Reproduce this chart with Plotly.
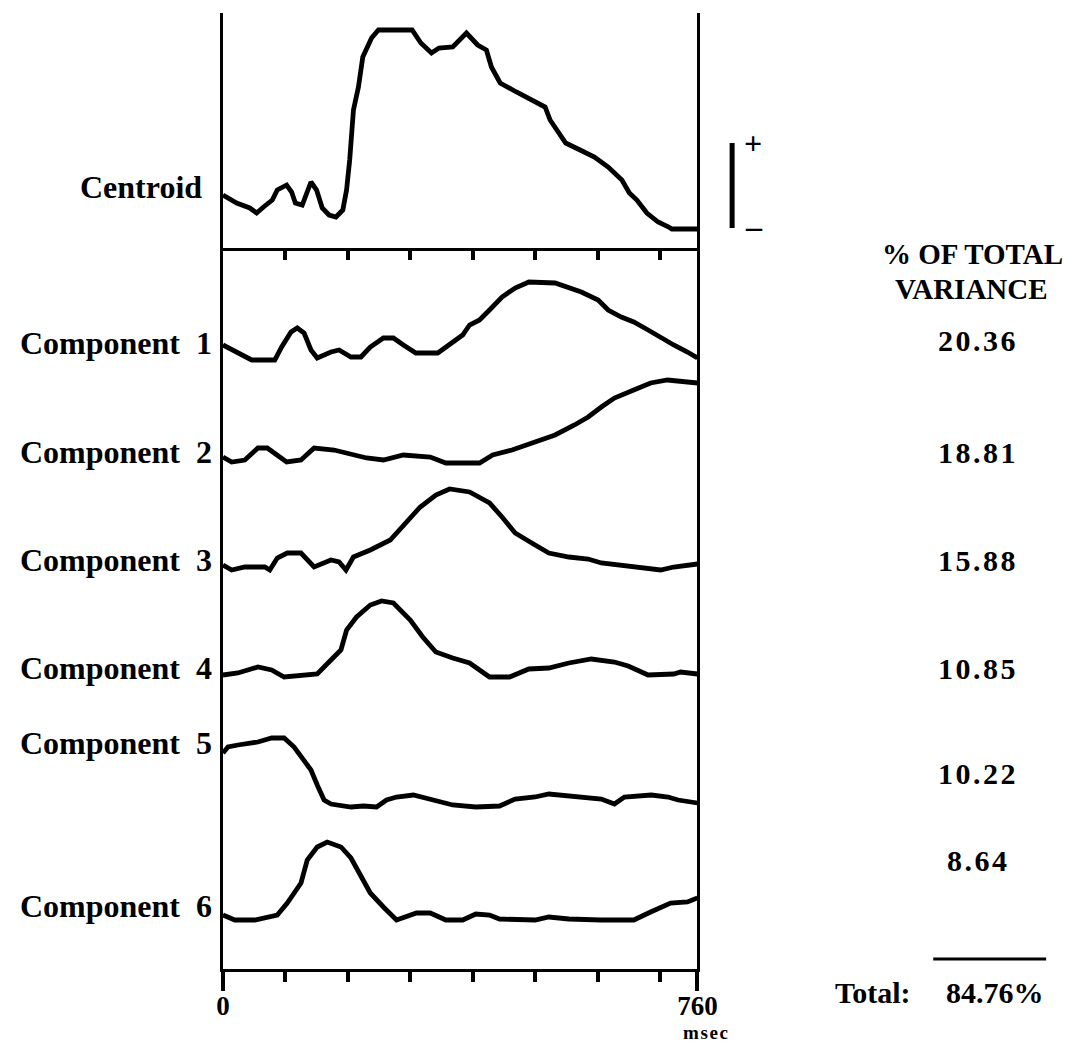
import plotly.graph_objects as go

W, H = 1080, 1043
XK = 1.016   # horizontal correction observed between requested and photographed positions


def fx(p):
    return p * XK / W


def fy(p):
    return 1 - p / H


# ---------------- data ----------------
# time in msec, amplitude in arbitrary units (positive = up)
centroid_ms = [0, 22, 43, 54, 65, 79, 87, 102, 110, 116, 127, 136, 141, 150, 159, 170, 181, 192, 198,
               203, 209, 217, 224, 238, 249, 303, 317, 334, 346, 368, 390, 408, 422, 430, 444, 470,
               493, 516, 524, 538, 549, 572, 595, 617, 639, 651, 663, 679, 697, 714, 719, 760]
centroid_amp = [34, 26, 21, 16, 22, 29, 39, 44, 37, 26, 24, 39, 47, 39, 21, 14, 12, 19, 39,
                69, 119, 142, 172, 191, 199, 199, 186, 176, 181, 182, 196, 184, 179, 162, 146, 137,
                129, 122, 109, 96, 86, 79, 72, 62, 49, 36, 29, 16, 7, 2, 0, 0]

comp1_ms = [0, 24, 46, 83, 94, 109, 119, 130, 141, 151, 173, 186, 205, 221, 236, 257, 273, 289, 309,
            344, 363, 384, 395, 411, 427, 447, 468, 490, 532, 554, 574, 601, 617, 638, 658, 681,
            701, 722, 744, 760]
comp1_amp = [0, -8, -15, -15, -2, 13, 17, 12, -5, -13, -7, -5, -12, -12, -2, 7, 7, 0, -8,
             -8, 0, 10, 20, 25, 35, 48, 57, 63, 62, 57, 53, 45, 35, 28, 23, 15,
             7, 0, -7, -13]

comp2_ms = [0, 14, 35, 56, 71, 87, 102, 125, 146, 178, 198, 230, 257, 289, 332, 357, 411, 432, 463,
            500, 532, 563, 585, 606, 627, 658, 685, 712, 733, 760]
comp2_amp = [0, -5, -3, 9, 9, 2, -5, -3, 9, 7, 4, -1, -3, 2, 0, -6, -6, 2, 7,
             15, 22, 32, 40, 50, 59, 67, 74, 77, 76, 74]

comp3_ms = [0, 14, 35, 67, 75, 87, 103, 125, 146, 173, 186, 197, 209, 236, 268, 293, 316, 341, 363,
            395, 427, 447, 468, 500, 522, 554, 585, 606, 658, 701, 722, 760]
comp3_amp = [0, -5, -2, -2, -5, 7, 12, 12, -2, 5, 3, -5, 8, 15, 25, 42, 58, 70, 76,
             73, 62, 48, 32, 20, 12, 8, 6, 2, -2, -5, -2, 1]

comp4_ms = [0, 24, 56, 78, 98, 125, 151, 173, 189, 198, 214, 236, 254, 273, 300, 320, 341, 368, 395,
            427, 459, 490, 522, 554, 590, 627, 649, 681, 722, 733, 760]
comp4_amp = [0, 2, 8, 5, -2, -1, 1, 15, 25, 45, 58, 70, 74, 72, 55, 38, 23, 17, 12,
             -2, -2, 6, 7, 12, 16, 13, 9, 0, 1, 3, 1]

comp5_ms = [0, 8, 24, 56, 78, 98, 114, 130, 141, 151, 162, 173, 205, 225, 246, 262, 278, 305, 332,
            368, 405, 443, 468, 500, 522, 563, 606, 627, 643, 686, 713, 729, 760]
comp5_amp = [50, 56, 58, 61, 65, 65, 56, 43, 33, 18, 3, -1, -4, -3, -4, 3, 6, 8, 4,
             -2, -4, -3, 4, 6, 9, 7, 4, -1, 6, 8, 6, 3, 0]

comp6_ms = [0, 19, 51, 87, 103, 125, 135, 151, 167, 189, 205, 221, 236, 257, 278, 310, 332, 357, 384,
            405, 427, 443, 500, 522, 554, 606, 658, 685, 717, 744, 760]
comp6_amp = [2, -3, -3, 2, 14, 34, 57, 70, 75, 70, 59, 40, 24, 10, -3, 4, 4, -3, -3,
             3, 2, -2, -3, 0, -2, -3, -3, 5, 14, 15, 19]

component_ms = [comp1_ms, comp2_ms, comp3_ms, comp4_ms, comp5_ms, comp6_ms]
component_amp = [comp1_amp, comp2_amp, comp3_amp, comp4_amp, comp5_amp, comp6_amp]
component_names = ["Component\u00a0\u00a01", "Component\u00a0\u00a02", "Component\u00a0\u00a03",
                   "Component\u00a0\u00a04", "Component\u00a0\u00a05", "Component\u00a0\u00a06"]
variance_pct = ["20.36", "18.81", "15.88", "10.85", "10.22", "8.64"]
total_pct = "84.76%"
x_ticks_major = [0, 760]
x_ticks_minor = [100, 200, 300, 400, 500, 600, 700]

# ---------------- layout parameters ----------------
stack_offsets = [624, 512, 404, 294, 166, 52]       # baseline of each component in lower panel units
label_rows = [343, 452, 560, 668, 743, 906]         # pixel rows of the left labels
value_rows = [340, 452, 560, 668, 773, 860]         # pixel rows of the right values

FONT = "Liberation Serif"
LW = 4.8

fig = go.Figure()

fig.add_trace(go.Scatter(x=centroid_ms, y=centroid_amp, mode="lines",
                         line=dict(color="black", width=LW), xaxis="x", yaxis="y",
                         cliponaxis=False, showlegend=False, hoverinfo="skip"))

for ms, amp, off in zip(component_ms, component_amp, stack_offsets):
    fig.add_trace(go.Scatter(x=ms, y=[off + a for a in amp], mode="lines",
                             line=dict(color="black", width=LW), xaxis="x2", yaxis="y2",
                             cliponaxis=False, showlegend=False, hoverinfo="skip"))

xdom = [fx(218), fx(697)]
axis_common = dict(showgrid=False, zeroline=False, linecolor="black", linewidth=3)

fig.update_layout(
    width=W, height=H, autosize=False,
    margin=dict(l=0, r=0, t=0, b=0),
    paper_bgcolor="white", plot_bgcolor="white",
    xaxis=dict(domain=xdom, anchor="y", range=[0, 760], showline=True,
               ticks="outside", tickmode="array", tickvals=x_ticks_minor, ticklen=9,
               tickwidth=4, tickcolor="black", showticklabels=False, **axis_common),
    yaxis=dict(domain=[fy(248), fy(13)], anchor="x", range=[-19, 216], showline=True,
               mirror=True, ticks="", showticklabels=False, **axis_common),
    xaxis2=dict(domain=xdom, anchor="y2", range=[0, 760], showline=True,
                ticks="outside", tickmode="array", tickvals=x_ticks_major,
                ticktext=[str(v) for v in x_ticks_major], ticklen=19, tickwidth=4,
                tickcolor="black", ticklabelstandoff=-8,
                tickfont=dict(family=FONT, size=27, color="black", weight="bold"),
                minor=dict(tickmode="array", tickvals=x_ticks_minor, ticks="outside",
                           ticklen=10, tickwidth=4, tickcolor="black", showgrid=False),
                **axis_common),
    yaxis2=dict(domain=[fy(969), fy(248)], anchor="x2", range=[0, 721], showline=True,
                mirror=True, ticks="", showticklabels=False, **axis_common),
)

ann = []


def text(x, y, s, size=30, anchor="center"):
    ann.append(dict(x=fx(x), y=fy(y), xref="paper", yref="paper", text=s, showarrow=False,
                    xanchor=anchor, yanchor="middle",
                    font=dict(family=FONT, size=size, color="black", weight="bold")))


text(199, 187, "Centroid", size=32, anchor="right")
for name, row in zip(component_names, label_rows):
    text(209, row, name, size=32, anchor="right")

text(975, 254, "% OF TOTAL", size=29)
text(974, 289, "VARIANCE", size=29)
for val, row in zip(variance_pct, value_rows):
    text(979, row, "\u200a".join(val), size=30)
text(874, 992, "Total:", size=30)
text(997, 992, total_pct, size=30)
text(705, 1032, "\u200a".join("msec"), size=19)
text(753, 143, "+", size=32)
text(754, 226, "\u2013", size=32)

fig.update_layout(annotations=ann)

fig.add_shape(type="line", xref="paper", yref="paper", x0=fx(732), x1=fx(732),
              y0=fy(143), y1=fy(228), line=dict(color="black", width=5))
fig.add_shape(type="line", xref="paper", yref="paper", x0=fx(935), x1=fx(1049),
              y0=fy(959), y1=fy(959), line=dict(color="black", width=3))

fig.write_html(
    "out.html",
    config={"responsive": False},
    post_script="document.documentElement.style.overflow='hidden';"
                "document.body.style.margin='0';document.body.style.overflow='hidden';",
)
